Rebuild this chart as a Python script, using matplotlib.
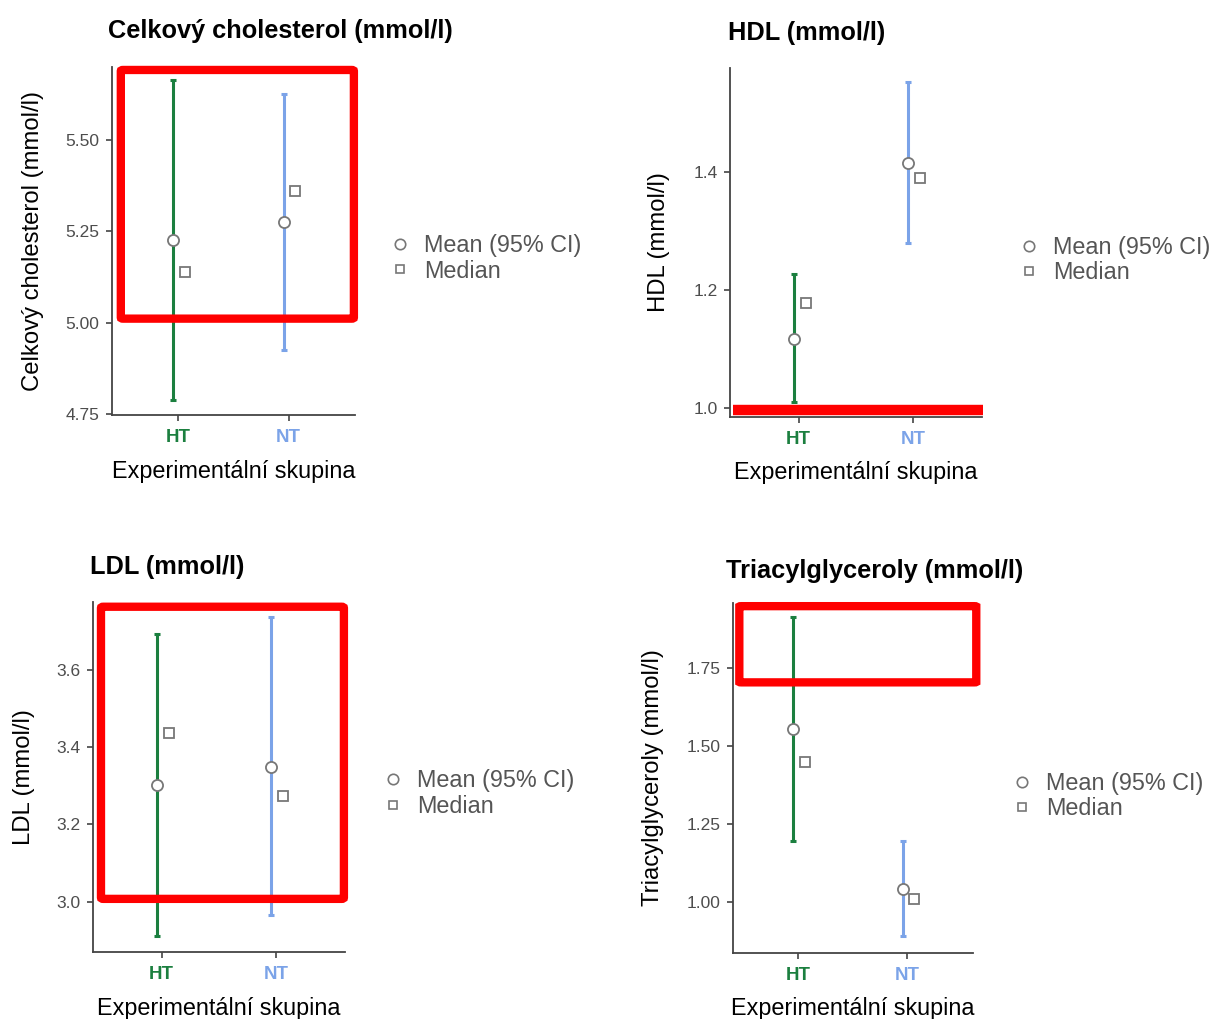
import matplotlib.pyplot as plt
from matplotlib.lines import Line2D
from matplotlib.patches import FancyBboxPatch

plt.rcParams['font.family'] = ['Liberation Sans', 'DejaVu Sans']

groups = ['HT', 'NT']
group_colors = ['#1b7f3f', '#7ba3e8']

titles = ['Celkový cholesterol (mmol/l)', 'HDL (mmol/l)', 'LDL (mmol/l)', 'Triacylglyceroly (mmol/l)']
ylabels = ['Celkový cholesterol (mmol/l)', 'HDL (mmol/l)', 'LDL (mmol/l)', 'Triacylglyceroly (mmol/l)']

# mean, CI low, CI high, median for HT / NT
chol_mean = [5.225, 5.277]
chol_lo = [4.788, 4.926]
chol_hi = [5.665, 5.626]
chol_med = [5.14, 5.36]

hdl_mean = [1.118, 1.415]
hdl_lo = [1.011, 1.280]
hdl_hi = [1.227, 1.553]
hdl_med = [1.179, 1.390]

ldl_mean = [3.301, 3.348]
ldl_lo = [2.912, 2.966]
ldl_hi = [3.693, 3.738]
ldl_med = [3.437, 3.273]

tag_mean = [1.554, 1.040]
tag_lo = [1.195, 0.888]
tag_hi = [1.914, 1.195]
tag_med = [1.450, 1.008]

yticks = [[4.75, 5.00, 5.25, 5.50], [1.0, 1.2, 1.4], [3.0, 3.2, 3.4, 3.6], [1.00, 1.25, 1.50, 1.75]]
ytick_fmt = ['%.2f', '%.1f', '%.1f', '%.2f']
ylims = [(4.747, 5.70), (0.986, 1.576), (2.870, 3.777), (0.836, 1.961)]

# red highlight boxes (x0, x1, y0, y1) in data units; None -> line
red_boxes = [(0.48, 2.59, 5.011, 5.692), None, (0.47, 2.59, 3.007, 3.764), (0.46, 2.63, 1.705, 1.950)]
red_line_y = 0.997

positions = [(0.0924, 0.5927, 0.2005, 0.3415),
             (0.6023, 0.5911, 0.2079, 0.3419),
             (0.0767, 0.0660, 0.2080, 0.3435),
             (0.6046, 0.0651, 0.1982, 0.3434)]
title_xy = [(-0.016, 1.105), (-0.008, 1.101), (-0.012, 1.099), (-0.029, 1.091)]
ylabel_x = [-0.28, -0.238, -0.23, -0.288]
legend_anchor = [(1.05, 0.45), (1.056, 0.45), (1.06, 0.452), (1.067, 0.447)]

data = [(chol_mean, chol_lo, chol_hi, chol_med),
        (hdl_mean, hdl_lo, hdl_hi, hdl_med),
        (ldl_mean, ldl_lo, ldl_hi, ldl_med),
        (tag_mean, tag_lo, tag_hi, tag_med)]

fig = plt.figure(figsize=(12.12, 10.19), dpi=100)

for i in range(4):
    ax = fig.add_axes(positions[i])
    mean, lo, hi, med = data[i]
    for j in range(2):
        xm = j + 1 - 0.045
        ax.errorbar([xm], [mean[j]], yerr=[[mean[j] - lo[j]], [hi[j] - mean[j]]],
                    fmt='none', ecolor=group_colors[j], elinewidth=2.2, capsize=2.5,
                    capthick=2.2, zorder=2)
        ax.plot([xm], [mean[j]], 'o', ms=8, mfc='white', mec='#777777', mew=1.3, zorder=3)
        ax.plot([j + 1 + 0.06], [med[j]], 's', ms=7, mfc='white', mec='#777777', mew=1.3, zorder=3)

    if red_boxes[i] is not None:
        x0, x1, y0, y1 = red_boxes[i]
        box = FancyBboxPatch((x0, y0), x1 - x0, y1 - y0, boxstyle='round,pad=0,rounding_size=0.02',
                             fill=False, ec='#ff0000', lw=6, clip_on=False, zorder=4,
                             mutation_aspect=(y1 - y0) / (x1 - x0) * 0.5)
        ax.add_patch(box)
    else:
        ax.plot([0.43, 2.61], [red_line_y, red_line_y], color='#ff0000', lw=7.5,
                solid_capstyle='butt', clip_on=False, zorder=4)

    ax.set_xlim(0.4, 2.6)
    ax.set_ylim(*ylims[i])
    ax.set_xticks([1, 2])
    ax.set_xticklabels(groups, fontweight='bold', fontsize=13.5)
    for lbl, c in zip(ax.get_xticklabels(), group_colors):
        lbl.set_color(c)
    ax.set_yticks(yticks[i])
    ax.set_yticklabels([ytick_fmt[i] % v for v in yticks[i]], fontsize=12.5, color='#4d4d4d')
    ax.tick_params(length=4, width=1.2, color='#444444')
    ax.tick_params(axis='x', pad=6)
    ax.tick_params(axis='y', pad=5)
    for s in ['top', 'right']:
        ax.spines[s].set_visible(False)
    for s in ['left', 'bottom']:
        ax.spines[s].set_color('#444444')
        ax.spines[s].set_linewidth(1.3)
    ax.set_xlabel('Experimentální skupina', fontsize=16.8, labelpad=10)
    ax.set_ylabel(ylabels[i], fontsize=17.2)
    ax.yaxis.set_label_coords(ylabel_x[i], 0.5)
    ax.text(title_xy[i][0], title_xy[i][1], titles[i], transform=ax.transAxes, fontsize=18.3,
            fontweight='bold', ha='left', va='center')

    handles = [Line2D([], [], ls='none', marker='o', ms=7.5, mfc='white', mec='#777777', mew=1.2),
               Line2D([], [], ls='none', marker='s', ms=6, mfc='white', mec='#777777', mew=1.2)]
    leg = ax.legend(handles, ['Mean (95% CI)', 'Median'], loc='center left',
                    bbox_to_anchor=legend_anchor[i], frameon=False, fontsize=16.8,
                    handlelength=1.0, handletextpad=0.55, labelspacing=0.1)
    for t in leg.get_texts():
        t.set_color('#555555')

fig.savefig('out.png', dpi=100)
